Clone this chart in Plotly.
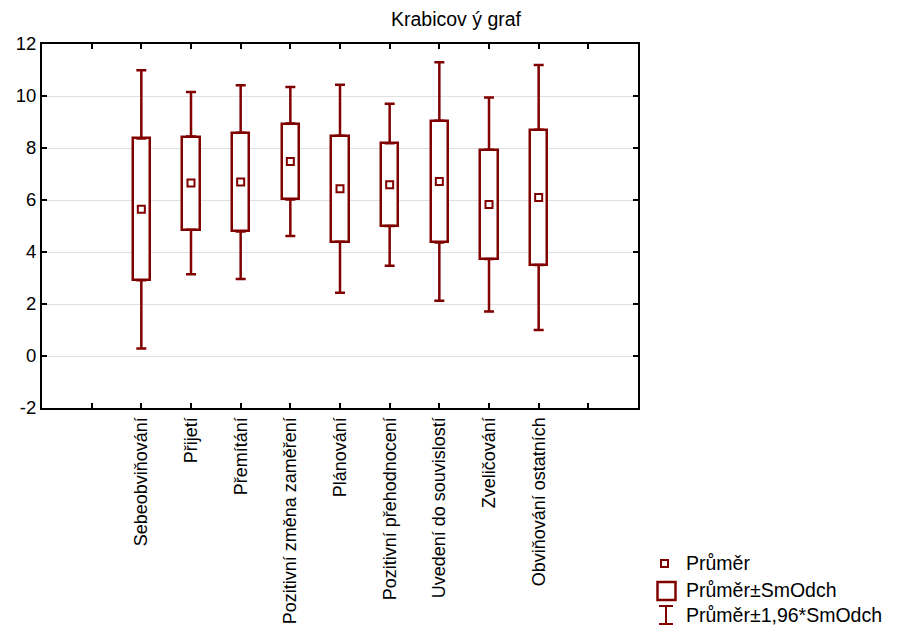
import plotly.graph_objects as go

categories = ["Sebeobviňování", "Přijetí", "Přemítání", "Pozitivní změna zaměření",
              "Plánování", "Pozitivní přehodnocení", "Uvedení do souvislostí",
              "Zveličování", "Obviňování ostatních"]
means = [5.64, 6.65, 6.69, 7.48, 6.43, 6.59, 6.71, 5.83, 6.10]
sds = [2.73, 1.79, 1.90, 1.46, 2.04, 1.59, 2.34, 2.10, 2.60]
yticks = [-2, 0, 2, 4, 6, 8, 10, 12]

COL = "#800000"
FONT = "Arial, Liberation Sans, sans-serif"
W, H = 898, 627
L, R, T, B = 42, 260, 44, 219
PW, PH = W - L - R, H - T - B

xpos = [i + 2 for i in range(len(categories))]
box_lo = [m - s for m, s in zip(means, sds)]
box_hi = [m + s for m, s in zip(means, sds)]
box_h = [2 * s for s in sds]
ext = [0.96 * s for s in sds]  # whisker part outside the box (1.96*SD - SD)
zeros = [0] * len(sds)

fig = go.Figure()
# whiskers (mean ± 1.96*SD), drawn from box edges outward
fig.add_trace(go.Scatter(
    x=xpos, y=box_hi, mode="markers", marker=dict(size=1, color="rgba(0,0,0,0)"),
    error_y=dict(type="data", symmetric=False, array=ext, arrayminus=zeros,
                 color=COL, thickness=2.5, width=5),
    showlegend=False, hoverinfo="skip"))
fig.add_trace(go.Scatter(
    x=xpos, y=box_lo, mode="markers", marker=dict(size=1, color="rgba(0,0,0,0)"),
    error_y=dict(type="data", symmetric=False, array=zeros, arrayminus=ext,
                 color=COL, thickness=2.5, width=5),
    showlegend=False, hoverinfo="skip"))
# boxes (mean ± SD)
fig.add_trace(go.Bar(
    x=xpos, y=box_h, base=box_lo, width=0.35,
    marker=dict(color="white", line=dict(color=COL, width=2.5)),
    showlegend=False))
# means
fig.add_trace(go.Scatter(
    x=xpos, y=means, mode="markers",
    marker=dict(symbol="square-open", size=7, color=COL, line=dict(width=2, color=COL)),
    showlegend=False))

def px(x):
    return (x - L) / PW

def py(y):
    return (H - B - y) / PH

# manual legend
shapes = []
annots = []
shapes.append(dict(type="rect", xref="paper", yref="paper", x0=px(661), x1=px(668),
                   y0=py(567), y1=py(560), line=dict(color=COL, width=2)))
shapes.append(dict(type="rect", xref="paper", yref="paper", x0=px(657.5), x1=px(675.5),
                   y0=py(600), y1=py(582), line=dict(color=COL, width=2.5)))
shapes.append(dict(type="line", xref="paper", yref="paper", x0=px(666), x1=px(666),
                   y0=py(624), y1=py(606), line=dict(color=COL, width=2)))
shapes.append(dict(type="line", xref="paper", yref="paper", x0=px(659), x1=px(673),
                   y0=py(606), y1=py(606), line=dict(color=COL, width=2)))
shapes.append(dict(type="line", xref="paper", yref="paper", x0=px(659), x1=px(673),
                   y0=py(624), y1=py(624), line=dict(color=COL, width=2)))
legend_labels = ["Průměr", "Průměr±SmOdch", "Průměr±1,96*SmOdch"]
legend_y = [563, 590, 615]
for lab, yy in zip(legend_labels, legend_y):
    annots.append(dict(text=lab, xref="paper", yref="paper", x=px(684), y=py(yy),
                       xanchor="left", yanchor="middle", showarrow=False,
                       font=dict(family=FONT, size=19.5, color="black")))

fig.update_layout(
    width=W, height=H, margin=dict(l=L, r=R, t=T, b=B, autoexpand=False),
    paper_bgcolor="white", plot_bgcolor="white",
    title=dict(text="Krabicov ý graf", x=456 / W, xanchor="center", y=1 - 19 / H,
               yanchor="middle", font=dict(family=FONT, size=19.5, color="black")),
    shapes=shapes, annotations=annots, bargap=0,
    font=dict(family=FONT, size=18, color="black"),
)
fig.update_xaxes(range=[0, 12], tickvals=list(range(1, 12)),
                 ticktext=[""] + categories + [""], tickangle=-90, automargin=False,
                 showgrid=False, zeroline=False, showline=True, linecolor="black",
                 linewidth=2, mirror="ticks", ticks="inside", ticklen=5,
                 tickcolor="black", tickwidth=1.5, tickfont=dict(size=18))
fig.update_yaxes(range=[-2, 12], tickvals=yticks, ticktext=[str(v) for v in yticks],
                 automargin=False,
                 showgrid=True, gridcolor="#e0e0e0", gridwidth=1, zeroline=False,
                 showline=True, linecolor="black", linewidth=2, mirror="ticks",
                 ticks="inside", ticklen=5, tickcolor="black", tickwidth=1.5,
                 tickfont=dict(size=18.5))

fig.write_html("out.html")
